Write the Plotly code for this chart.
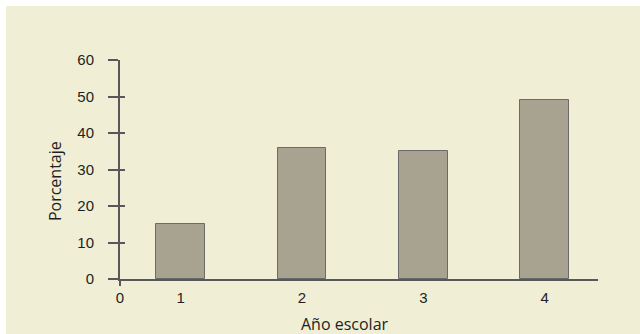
import plotly.graph_objects as go

# Datos: porcentaje por año escolar
anios = [1, 2, 3, 4]
porcentajes = [15, 36, 35, 49]
y_ticks = [0, 10, 20, 30, 40, 50, 60]
x_tick_vals = [0.5, 1, 2, 3, 4]
x_tick_text = ["0", "1", "2", "3", "4"]

CREMA = "#F0EED5"
EJE = "#58585A"
BARRA = "#A8A290"
BORDE = "#6A6A68"
TEXTO = "#231F20"
FUENTE = "Liberation Sans, Arial, sans-serif"
FUENTE_TITULO = "Open Sans, sans-serif"

fig = go.Figure()
fig.add_trace(go.Bar(
    x=anios, y=porcentajes, width=0.4,
    marker=dict(color=BARRA, line=dict(color=BORDE, width=1)),
    hoverinfo="skip", showlegend=False,
))
# traza invisible para activar los ejes superpuestos
fig.add_trace(go.Scatter(x=[None], y=[None], xaxis="x2", yaxis="y2",
                         showlegend=False, hoverinfo="skip"))

x_range = [0.5, 4.44]
y_range = [0, 60]

fig.update_layout(
    width=640, height=334,
    margin=dict(l=120, r=42, t=60, b=55),
    paper_bgcolor="white",
    plot_bgcolor=CREMA,
    font=dict(family=FUENTE, size=15, color=TEXTO),
    bargap=0,
    xaxis=dict(
        range=x_range, tickmode="array", tickvals=x_tick_vals, ticktext=x_tick_text,
        showgrid=False, zeroline=False, showline=True, linecolor=EJE, linewidth=2,
        ticks="", ticklabelstandoff=4, fixedrange=True,
    ),
    xaxis2=dict(
        range=x_range, overlaying="x", anchor="y", side="bottom",
        tickmode="array", tickvals=[0.5], showticklabels=False,
        ticks="outside", ticklen=6, tickwidth=2, tickcolor=EJE,
        showgrid=False, zeroline=False, showline=False,
    ),
    yaxis=dict(
        range=y_range, tickmode="array", tickvals=y_ticks,
        showgrid=False, zeroline=False, showline=True, linecolor=EJE, linewidth=2,
        ticks="outside", ticklen=10, tickwidth=2, tickcolor=EJE,
        ticklabelstandoff=11, fixedrange=True,
    ),
    yaxis2=dict(
        range=y_range, overlaying="y", anchor="x", side="left",
        tickmode="array", tickvals=y_ticks, showticklabels=False,
        ticks="inside", ticklen=5, tickwidth=2, tickcolor=EJE,
        showgrid=False, zeroline=False, showline=False,
    ),
    shapes=[dict(
        type="rect", xref="paper", yref="paper", layer="below",
        x0=-0.2385, x1=1.1, y0=-0.26, y1=1.2465,
        fillcolor=CREMA, line=dict(width=0),
    )],
    annotations=[
        dict(text="Porcentaje", xref="paper", yref="paper",
             x=-0.136, y=0.447, xanchor="center", yanchor="middle",
             textangle=-90, showarrow=False,
             font=dict(family=FUENTE_TITULO, size=16, color=TEXTO)),
        dict(text="Año escolar", xref="paper", yref="paper",
             x=0.471, y=-0.205, xanchor="center", yanchor="middle",
             showarrow=False,
             font=dict(family=FUENTE_TITULO, size=16, color=TEXTO)),
    ],
)

fig.write_html("out.html")
